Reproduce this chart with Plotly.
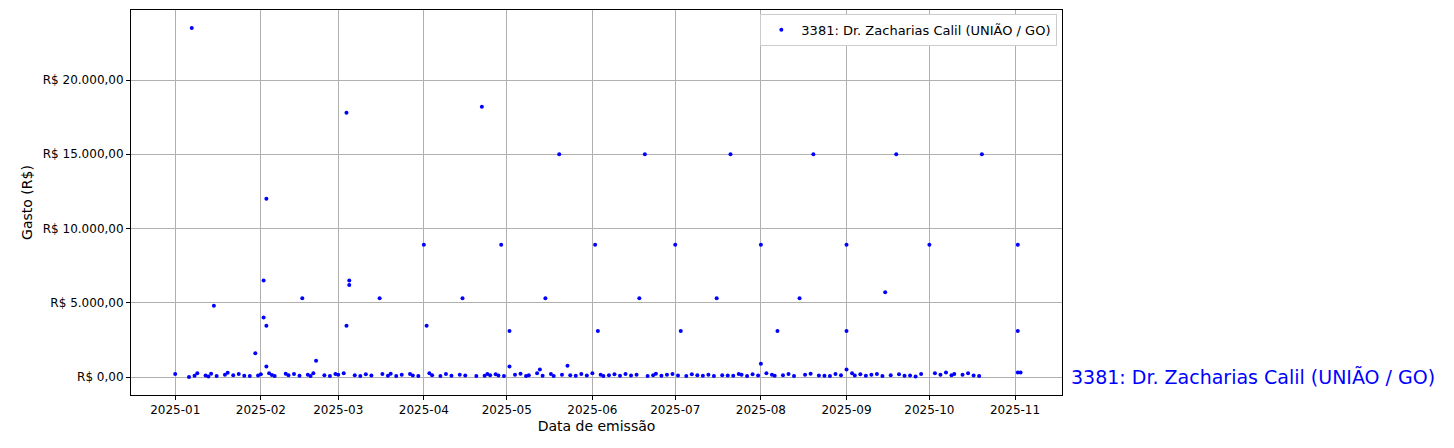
import plotly.graph_objects as go
import pandas as pd

big_dates = ["2025-01-07","2025-01-15","2025-01-30","2025-02-02","2025-02-02","2025-02-03","2025-02-03","2025-02-03",
 "2025-02-16","2025-02-21","2025-03-04","2025-03-04","2025-03-05","2025-03-05","2025-03-16","2025-04-01","2025-04-02",
 "2025-04-15","2025-04-22","2025-04-29","2025-05-02","2025-05-02","2025-05-15","2025-05-13","2025-05-20","2025-05-23",
 "2025-06-02","2025-06-03","2025-06-18","2025-06-20","2025-07-01","2025-07-03","2025-07-16","2025-07-21",
 "2025-08-01","2025-08-01","2025-08-07","2025-08-15","2025-08-20","2025-09-01","2025-09-01","2025-09-01",
 "2025-09-15","2025-09-19","2025-10-01","2025-10-20","2025-11-02","2025-11-02","2025-11-02","2025-11-03"]
big_vals = [23500,4800,1600,6500,4000,3450,12000,700,5300,1100,17800,3450,6500,6200,5300,8900,3450,
 5300,18200,8900,3100,700,5300,500,15000,750,8900,3100,5300,15000,8900,3100,5300,15000,
 8900,900,3100,5300,15000,8900,3100,500,5700,15000,8900,15000,8900,3100,300,300]

small_dates = ["2025-01-01","2025-01-06","2025-01-08","2025-01-09","2025-01-12","2025-01-13","2025-01-14","2025-01-16",
 "2025-01-19","2025-01-20","2025-01-22","2025-01-24","2025-01-26","2025-01-28","2025-01-31","2025-02-01","2025-02-04",
 "2025-02-05","2025-02-06","2025-02-10","2025-02-11","2025-02-13","2025-02-15","2025-02-18","2025-02-19","2025-02-20",
 "2025-02-24","2025-02-26","2025-02-28","2025-03-01","2025-03-03","2025-03-07","2025-03-09","2025-03-11","2025-03-13",
 "2025-03-17","2025-03-19","2025-03-20","2025-03-22","2025-03-24","2025-03-27","2025-03-28","2025-03-30","2025-04-03",
 "2025-04-04","2025-04-07","2025-04-09","2025-04-11","2025-04-14","2025-04-16","2025-04-20","2025-04-23","2025-04-24",
 "2025-04-25","2025-04-27","2025-04-28","2025-04-30","2025-05-04","2025-05-06","2025-05-08","2025-05-09","2025-05-12",
 "2025-05-14","2025-05-17","2025-05-18","2025-05-21","2025-05-24","2025-05-26","2025-05-28","2025-05-30","2025-06-01",
 "2025-06-04","2025-06-05","2025-06-07","2025-06-09","2025-06-11","2025-06-13","2025-06-15","2025-06-17","2025-06-21",
 "2025-06-23","2025-06-24","2025-06-26","2025-06-28","2025-06-30","2025-07-02","2025-07-05","2025-07-07","2025-07-09",
 "2025-07-11","2025-07-13","2025-07-15","2025-07-18","2025-07-20","2025-07-22","2025-07-24","2025-07-25","2025-07-27",
 "2025-07-29","2025-07-31","2025-08-03","2025-08-05","2025-08-06","2025-08-09","2025-08-11","2025-08-13","2025-08-17",
 "2025-08-19","2025-08-22","2025-08-24","2025-08-26","2025-08-28","2025-08-30","2025-09-03","2025-09-04","2025-09-06",
 "2025-09-08","2025-09-10","2025-09-12","2025-09-14","2025-09-17","2025-09-20","2025-09-22","2025-09-24","2025-09-26",
 "2025-09-28","2025-10-03","2025-10-05","2025-10-07","2025-10-09","2025-10-10","2025-10-13","2025-10-15","2025-10-17",
 "2025-10-19","2025-10-22","2025-10-24","2025-10-28"]
small_vals = [200,0,80,250,100,40,220,60,150,280,120,200,90,60,100,180,250,140,60,220,120,200,80,160,60,250,
 120,60,200,150,250,120,60,180,100,200,80,220,60,150,200,100,60,250,120,60,200,80,150,100,60,80,200,
 120,180,100,60,150,220,60,120,250,80,200,60,150,120,80,200,100,250,150,60,120,180,80,200,100,150,60,
 120,220,80,150,200,100,60,180,120,80,150,60,120,100,80,200,150,60,180,100,250,150,80,120,200,60,150,
 220,100,80,60,200,120,250,100,180,80,150,200,60,120,180,80,100,40,200,250,150,300,120,200,150,250,100,60]

dates = pd.to_datetime(big_dates + small_dates)
vals = big_vals + small_vals

ytick_vals = [0, 5000, 10000, 15000, 20000]
ytick_text = ["R$ 0,00", "R$ 5.000,00", "R$ 10.000,00", "R$ 15.000,00", "R$ 20.000,00"]
xtick_vals = [f"2025-{m:02d}-01" for m in range(1, 12)]
xtick_text = [f"2025-{m:02d}" for m in range(1, 12)]
label = "3381: Dr. Zacharias Calil (UNIÃO / GO)"

fig = go.Figure(go.Scatter(x=dates, y=vals, mode="markers", name=label,
                           marker=dict(color="blue", size=4, line=dict(width=0))))
ax = dict(showline=True, linecolor="black", mirror=True, showgrid=True, gridcolor="#b0b0b0",
          ticks="outside", ticklen=4, tickcolor="black", zeroline=False, automargin=False)
fig.update_layout(
    width=1454, height=448, plot_bgcolor="white", paper_bgcolor="white",
    margin=dict(l=123, r=400, t=2, b=61),
    font=dict(family="DejaVu Sans", size=12, color="black"),
    xaxis=dict(**ax, range=["2024-12-16", "2025-11-18"], tickvals=xtick_vals, ticktext=xtick_text,
               title=dict(text="Data de emissão", standoff=4)),
    yaxis=dict(**ax, range=[-1212, 24714], tickvals=ytick_vals, ticktext=ytick_text,
               title=dict(text="Gasto (R$)", standoff=6)),
    showlegend=True,
    legend=dict(x=0.995, y=0.99, xanchor="right", yanchor="top", bordercolor="#cccccc", borderwidth=1,
                bgcolor="white", font=dict(size=13)),
    annotations=[dict(x=1.008, xref="paper", y=0, yref="y", text=label, showarrow=False,
                      xanchor="left", yanchor="middle", font=dict(size=19, color="blue"))],
)
fig.write_html("out.html")
